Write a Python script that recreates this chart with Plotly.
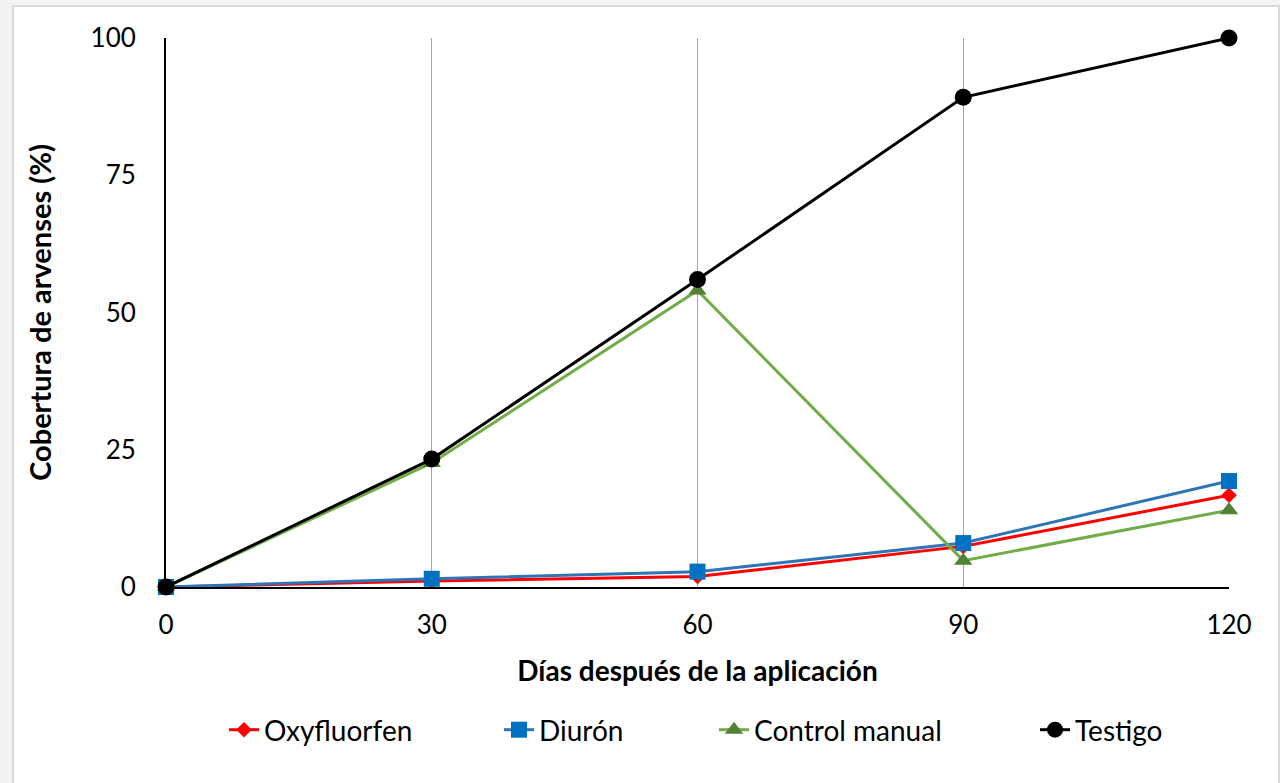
import plotly.graph_objects as go

# Days after application and weed cover (%) per treatment
dias = [0, 30, 60, 90, 120]
oxyfluorfen = [0, 1.1, 1.9, 7.4, 16.7]
diuron = [0, 1.5, 2.8, 8.0, 19.3]
control_manual = [0, 22.6, 54.0, 4.8, 14.0]
testigo = [0, 23.3, 56.0, 89.2, 100]

x_ticks = [0, 30, 60, 90, 120]
y_ticks = [0, 25, 50, 75, 100]

FONT = "Lato"

series = [
    ("Oxyfluorfen", oxyfluorfen, "#FF0000", "#FF0000", "diamond", 12, "legend"),
    ("Diurón", diuron, "#2E75B6", "#0070C0", "square", 16, "legend2"),
    ("Control manual", control_manual, "#70AD47", "#548235", "triangle-up", 16, "legend3"),
    ("Testigo", testigo, "#000000", "#000000", "circle", 17, "legend4"),
]

fig = go.Figure()
for name, vals, line_col, mk_col, sym, size, leg in series:
    fig.add_trace(go.Scatter(
        x=dias, y=vals, name=name, mode="lines+markers",
        line=dict(color=line_col, width=3),
        marker=dict(color=mk_col, symbol=sym, size=size, line=dict(width=0)),
        cliponaxis=False, legend=leg,
    ))

L, R, T, B = 166, 51, 38, 196
W, H = 1280, 783
pw, ph = W - L - R, H - T - B

def px(xp):
    return (xp - L) / pw

def py(yp):
    return (H - B - yp) / ph

legend_common = dict(orientation="h", yanchor="middle", xanchor="left",
                     font=dict(family=FONT, size=28, color="#000000"),
                     bgcolor="rgba(0,0,0,0)", borderwidth=0)
legend_x = [224, 499, 714, 1035]
legend_y = py(730)

fig.update_layout(
    width=W, height=H,
    margin=dict(l=L, r=R, t=T, b=B),
    paper_bgcolor="#F3F3F3",
    plot_bgcolor="#FFFFFF",
    font=dict(family=FONT, size=26, color="#000000"),
    showlegend=True,
    legend=dict(x=px(legend_x[0]), y=legend_y, **legend_common),
    legend2=dict(x=px(legend_x[1]), y=legend_y, **legend_common),
    legend3=dict(x=px(legend_x[2]), y=legend_y, **legend_common),
    legend4=dict(x=px(legend_x[3]), y=legend_y, **legend_common),
    xaxis=dict(
        range=[0, 120], tickvals=x_ticks, ticktext=[str(v) for v in x_ticks],
        showgrid=True, gridcolor="#A6A6A6", gridwidth=1,
        showline=True, linecolor="#000000", linewidth=2,
        zeroline=False, ticks="", ticklabelstandoff=14,
        tickfont=dict(family=FONT, size=26),
        title=dict(text="<b>Días después de la aplicación</b>", standoff=22,
                   font=dict(family=FONT, size=28)),
    ),
    yaxis=dict(
        range=[0, 100], tickvals=y_ticks, ticktext=[str(v) for v in y_ticks],
        showgrid=False, showline=True, linecolor="#000000", linewidth=2,
        zeroline=False, ticks="", ticklabelstandoff=23,
        tickfont=dict(family=FONT, size=26),
        title=dict(text="<b>Cobertura de arvenses (%)</b>", standoff=30,
                   font=dict(family=FONT, size=29)),
    ),
    shapes=[dict(
        type="rect", xref="paper", yref="paper", layer="below",
        x0=px(13), x1=px(1279), y0=py(786), y1=py(6),
        fillcolor="#FFFFFF", line=dict(color="#D9D9D9", width=2),
    )],
)

fig.write_html("out.html")
